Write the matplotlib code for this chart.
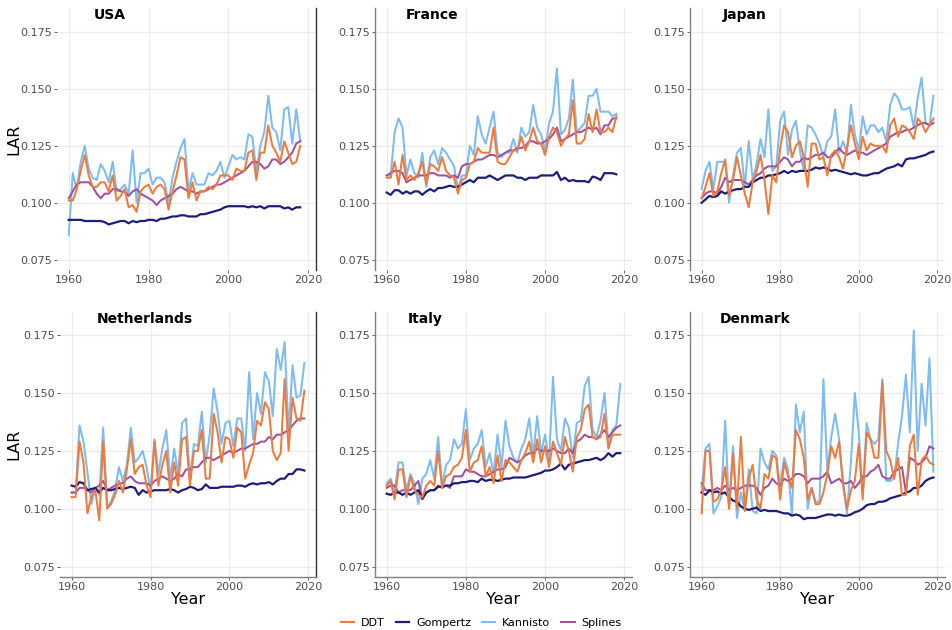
import numpy as np
import matplotlib
import matplotlib.pyplot as plt

matplotlib.use('Agg')

methods = ['DDT', 'Gompertz', 'Kannisto', 'Splines']
colors = {'DDT': '#F07A3C', 'Gompertz': '#1C1F78',
          'Kannisto': '#7DBBF2', 'Splines': '#9E50A2'}

years_to_2018 = list(range(1960, 2019))
years_to_2019 = list(range(1960, 2020))

# USA (1960-2018)
usa_ddt = [0.101, 0.101, 0.106, 0.114, 0.121, 0.112, 0.107, 0.107, 0.109, 0.109,
           0.105, 0.112, 0.101, 0.103, 0.106, 0.098, 0.099, 0.096, 0.105, 0.107,
           0.108, 0.104, 0.107, 0.108, 0.106, 0.097, 0.105, 0.112, 0.120, 0.119,
           0.102, 0.109, 0.101, 0.105, 0.105, 0.107, 0.106, 0.108, 0.112, 0.112,
           0.112, 0.110, 0.115, 0.114, 0.114, 0.122, 0.123, 0.110, 0.122, 0.122,
           0.134, 0.125, 0.122, 0.118, 0.127, 0.122, 0.117, 0.118, 0.125]
usa_gom = [0.0925, 0.0925, 0.0925, 0.0925, 0.092, 0.092, 0.092, 0.092, 0.092, 0.0915,
           0.0905, 0.091, 0.0915, 0.092, 0.092, 0.091, 0.092, 0.0915, 0.092, 0.092,
           0.0925, 0.0925, 0.092, 0.093, 0.093, 0.0935, 0.094, 0.094, 0.0945, 0.0945,
           0.094, 0.094, 0.094, 0.095, 0.095, 0.0955, 0.096, 0.0965, 0.097, 0.098,
           0.0985, 0.0985, 0.0985, 0.0985, 0.0985, 0.098, 0.0985, 0.098, 0.0985, 0.0975,
           0.0985, 0.0985, 0.0985, 0.0985, 0.0975, 0.098, 0.097, 0.098, 0.098]
usa_kan = [0.086, 0.113, 0.106, 0.118, 0.125, 0.115, 0.111, 0.110, 0.117, 0.114,
           0.109, 0.118, 0.105, 0.106, 0.108, 0.104, 0.123, 0.100, 0.113, 0.113,
           0.115, 0.108, 0.111, 0.111, 0.109, 0.100, 0.111, 0.118, 0.124, 0.128,
           0.105, 0.113, 0.108, 0.108, 0.108, 0.113, 0.112, 0.114, 0.118, 0.111,
           0.116, 0.121, 0.119, 0.120, 0.119, 0.130, 0.129, 0.114, 0.125, 0.131,
           0.147, 0.133, 0.131, 0.123, 0.141, 0.142, 0.126, 0.141, 0.127]
usa_spl = [0.102, 0.105, 0.108, 0.109, 0.109, 0.109, 0.107, 0.104, 0.102, 0.104,
           0.104, 0.106, 0.106, 0.105, 0.105, 0.103, 0.105, 0.106, 0.104, 0.103,
           0.102, 0.101, 0.099, 0.101, 0.102, 0.103, 0.104, 0.106, 0.107, 0.106,
           0.105, 0.105, 0.104, 0.105, 0.105, 0.106, 0.107, 0.108, 0.108, 0.109,
           0.110, 0.111, 0.112, 0.113, 0.114, 0.116, 0.118, 0.118, 0.117, 0.115,
           0.116, 0.119, 0.119, 0.117, 0.118, 0.120, 0.122, 0.126, 0.127]

# France (1960-2018)
fra_ddt = [0.111, 0.111, 0.118, 0.108, 0.121, 0.110, 0.112, 0.110, 0.113, 0.118,
           0.108, 0.117, 0.116, 0.114, 0.120, 0.114, 0.112, 0.111, 0.104, 0.110,
           0.111, 0.117, 0.118, 0.124, 0.122, 0.122, 0.122, 0.133, 0.118, 0.117,
           0.117, 0.120, 0.123, 0.123, 0.129, 0.123, 0.127, 0.133, 0.127, 0.126,
           0.121, 0.129, 0.133, 0.131, 0.125, 0.128, 0.130, 0.145, 0.126, 0.126,
           0.128, 0.139, 0.131, 0.141, 0.131, 0.131, 0.133, 0.131, 0.138]
fra_gom = [0.1045, 0.1035, 0.1055, 0.1055, 0.104, 0.105, 0.104, 0.105, 0.105, 0.1035,
           0.105, 0.106, 0.105, 0.1065, 0.1065, 0.107, 0.1075, 0.107, 0.107, 0.108,
           0.109, 0.110, 0.109, 0.111, 0.111, 0.111, 0.112, 0.111, 0.110, 0.111,
           0.112, 0.112, 0.112, 0.111, 0.111, 0.110, 0.111, 0.111, 0.111, 0.112,
           0.112, 0.112, 0.112, 0.1135, 0.110, 0.111, 0.1095, 0.110, 0.1095, 0.1095,
           0.1095, 0.109, 0.1115, 0.111, 0.110, 0.113, 0.113, 0.113, 0.1125]
fra_kan = [0.112, 0.112, 0.131, 0.137, 0.133, 0.112, 0.119, 0.113, 0.111, 0.122,
           0.107, 0.120, 0.123, 0.117, 0.124, 0.122, 0.119, 0.116, 0.106, 0.112,
           0.112, 0.125, 0.121, 0.138, 0.130, 0.126, 0.133, 0.140, 0.122, 0.120,
           0.122, 0.122, 0.128, 0.122, 0.133, 0.129, 0.131, 0.143, 0.133, 0.130,
           0.123, 0.135, 0.140, 0.159, 0.130, 0.132, 0.137, 0.154, 0.131, 0.133,
           0.135, 0.147, 0.147, 0.150, 0.140, 0.140, 0.140, 0.138, 0.139]
fra_spl = [0.112, 0.113, 0.114, 0.114, 0.113, 0.109, 0.110, 0.111, 0.112, 0.112,
           0.112, 0.113, 0.113, 0.112, 0.112, 0.112, 0.111, 0.112, 0.111, 0.116,
           0.117, 0.117, 0.118, 0.119, 0.119, 0.120, 0.121, 0.121, 0.120, 0.121,
           0.122, 0.123, 0.123, 0.124, 0.124, 0.125, 0.127, 0.127, 0.126, 0.126,
           0.127, 0.128, 0.130, 0.133, 0.127, 0.128, 0.129, 0.130, 0.131, 0.131,
           0.132, 0.133, 0.132, 0.133, 0.130, 0.134, 0.134, 0.137, 0.137]

# Japan (1960-2019)
jpn_ddt = [0.102, 0.107, 0.113, 0.103, 0.105, 0.113, 0.119, 0.103, 0.110, 0.120,
           0.112, 0.104, 0.098, 0.109, 0.114, 0.121, 0.110, 0.095, 0.112, 0.109,
           0.124, 0.134, 0.131, 0.120, 0.125, 0.127, 0.120, 0.107, 0.126, 0.126,
           0.119, 0.120, 0.112, 0.121, 0.123, 0.120, 0.115, 0.124, 0.134, 0.126,
           0.119, 0.129, 0.123, 0.126, 0.125, 0.125, 0.125, 0.122, 0.134, 0.137,
           0.129, 0.134, 0.133, 0.131, 0.128, 0.137, 0.135, 0.131, 0.134, 0.137]
jpn_gom = [0.100, 0.1015, 0.103, 0.1025, 0.103, 0.105, 0.104, 0.105, 0.1055, 0.106,
           0.106, 0.107, 0.107, 0.109, 0.110, 0.111, 0.111, 0.112, 0.112, 0.1125,
           0.113, 0.114, 0.113, 0.114, 0.1135, 0.114, 0.114, 0.114, 0.1145, 0.1155,
           0.115, 0.1155, 0.115, 0.114, 0.1145, 0.114, 0.1135, 0.113, 0.1125, 0.113,
           0.1125, 0.112, 0.112, 0.1125, 0.113, 0.113, 0.114, 0.115, 0.1155, 0.116,
           0.117, 0.116, 0.119, 0.1195, 0.1195, 0.120, 0.1205, 0.121, 0.122, 0.1225]
jpn_kan = [0.106, 0.114, 0.118, 0.106, 0.118, 0.118, 0.118, 0.100, 0.112, 0.122,
           0.124, 0.107, 0.127, 0.110, 0.117, 0.128, 0.120, 0.141, 0.114, 0.116,
           0.136, 0.140, 0.121, 0.132, 0.136, 0.123, 0.114, 0.134, 0.133, 0.130,
           0.126, 0.120, 0.127, 0.129, 0.141, 0.122, 0.127, 0.122, 0.143, 0.130,
           0.123, 0.138, 0.130, 0.134, 0.134, 0.131, 0.133, 0.127, 0.143, 0.148,
           0.146, 0.141, 0.141, 0.142, 0.133, 0.146, 0.155, 0.135, 0.134, 0.147]
jpn_spl = [0.102, 0.104, 0.105, 0.105, 0.104, 0.107, 0.111, 0.109, 0.110, 0.110,
           0.110, 0.109, 0.108, 0.110, 0.112, 0.113, 0.115, 0.116, 0.116, 0.116,
           0.118, 0.120, 0.119, 0.116, 0.118, 0.118, 0.120, 0.119, 0.120, 0.121,
           0.121, 0.122, 0.120, 0.120, 0.122, 0.124, 0.122, 0.121, 0.122, 0.123,
           0.122, 0.122, 0.121, 0.122, 0.123, 0.124, 0.125, 0.126, 0.129, 0.130,
           0.131, 0.131, 0.132, 0.132, 0.133, 0.134, 0.135, 0.135, 0.134, 0.135]

# Netherlands (1960-2019)
nld_ddt = [0.105, 0.105, 0.129, 0.120, 0.098, 0.105, 0.108, 0.095, 0.129, 0.100,
           0.102, 0.106, 0.112, 0.107, 0.117, 0.130, 0.115, 0.118, 0.119, 0.110,
           0.105, 0.129, 0.110, 0.119, 0.125, 0.107, 0.120, 0.110, 0.130, 0.131,
           0.110, 0.125, 0.125, 0.134, 0.113, 0.113, 0.141, 0.133, 0.120, 0.131,
           0.130, 0.122, 0.135, 0.133, 0.113, 0.119, 0.124, 0.138, 0.136, 0.146,
           0.143, 0.125, 0.121, 0.124, 0.156, 0.125, 0.148, 0.139, 0.138, 0.151]
nld_gom = [0.110, 0.1095, 0.1115, 0.111, 0.108, 0.1085, 0.109, 0.107, 0.109, 0.108,
           0.108, 0.1085, 0.109, 0.1085, 0.109, 0.1095, 0.109, 0.106, 0.108, 0.107,
           0.1075, 0.108, 0.108, 0.108, 0.108, 0.1085, 0.108, 0.107, 0.108, 0.1085,
           0.1095, 0.109, 0.108, 0.1085, 0.1105, 0.109, 0.109, 0.109, 0.1095, 0.1095,
           0.1095, 0.1095, 0.110, 0.110, 0.1095, 0.1105, 0.111, 0.1105, 0.111, 0.111,
           0.1115, 0.1105, 0.112, 0.113, 0.113, 0.115, 0.115, 0.117, 0.117, 0.1165]
nld_kan = [0.107, 0.107, 0.136, 0.129, 0.116, 0.102, 0.109, 0.106, 0.135, 0.101,
           0.103, 0.108, 0.118, 0.112, 0.119, 0.135, 0.120, 0.122, 0.125, 0.118,
           0.108, 0.130, 0.115, 0.126, 0.134, 0.113, 0.126, 0.115, 0.137, 0.139,
           0.113, 0.128, 0.127, 0.142, 0.120, 0.132, 0.152, 0.142, 0.128, 0.137,
           0.138, 0.127, 0.139, 0.139, 0.125, 0.159, 0.130, 0.150, 0.141, 0.159,
           0.155, 0.140, 0.169, 0.160, 0.172, 0.133, 0.162, 0.148, 0.149, 0.163]
nld_spl = [0.107, 0.107, 0.109, 0.109, 0.108, 0.107, 0.109, 0.110, 0.112, 0.108,
           0.109, 0.110, 0.111, 0.111, 0.113, 0.114, 0.112, 0.111, 0.111, 0.111,
           0.110, 0.112, 0.113, 0.114, 0.113, 0.112, 0.113, 0.115, 0.114, 0.117,
           0.117, 0.118, 0.118, 0.120, 0.122, 0.122, 0.121, 0.122, 0.123, 0.124,
           0.125, 0.124, 0.125, 0.126, 0.126, 0.127, 0.128, 0.128, 0.129, 0.129,
           0.131, 0.130, 0.132, 0.132, 0.133, 0.134, 0.136, 0.138, 0.139, 0.139]

# Italy (1960-2019)
ita_ddt = [0.110, 0.112, 0.104, 0.117, 0.117, 0.105, 0.114, 0.108, 0.106, 0.105,
           0.110, 0.112, 0.110, 0.125, 0.109, 0.114, 0.115, 0.118, 0.119, 0.122,
           0.134, 0.116, 0.120, 0.121, 0.127, 0.114, 0.118, 0.111, 0.123, 0.112,
           0.121, 0.120, 0.118, 0.116, 0.121, 0.124, 0.129, 0.120, 0.130, 0.120,
           0.127, 0.118, 0.129, 0.124, 0.119, 0.131, 0.125, 0.116, 0.131, 0.134,
           0.143, 0.145, 0.131, 0.130, 0.131, 0.141, 0.126, 0.132, 0.132, 0.132]
ita_gom = [0.1065, 0.106, 0.107, 0.107, 0.106, 0.107, 0.106, 0.107, 0.108, 0.1045,
           0.107, 0.108, 0.108, 0.1095, 0.1095, 0.110, 0.110, 0.111, 0.111, 0.1115,
           0.1115, 0.112, 0.112, 0.1115, 0.113, 0.112, 0.1125, 0.1125, 0.112, 0.1125,
           0.113, 0.113, 0.1135, 0.1135, 0.1135, 0.1135, 0.114, 0.1145, 0.115, 0.1155,
           0.1165, 0.1165, 0.117, 0.118, 0.1195, 0.117, 0.119, 0.1195, 0.120, 0.1205,
           0.121, 0.121, 0.1215, 0.122, 0.121, 0.122, 0.124, 0.1225, 0.124, 0.124]
ita_kan = [0.111, 0.113, 0.107, 0.120, 0.120, 0.108, 0.115, 0.111, 0.102, 0.113,
           0.115, 0.121, 0.113, 0.131, 0.110, 0.119, 0.121, 0.130, 0.126, 0.128,
           0.143, 0.121, 0.126, 0.128, 0.134, 0.118, 0.124, 0.115, 0.132, 0.118,
           0.138, 0.127, 0.122, 0.120, 0.126, 0.130, 0.139, 0.123, 0.140, 0.124,
           0.132, 0.120, 0.157, 0.130, 0.125, 0.139, 0.135, 0.122, 0.137, 0.138,
           0.153, 0.157, 0.134, 0.131, 0.138, 0.150, 0.128, 0.134, 0.136, 0.154]
ita_spl = [0.109, 0.110, 0.110, 0.107, 0.108, 0.108, 0.108, 0.110, 0.112, 0.104,
           0.107, 0.108, 0.108, 0.110, 0.109, 0.110, 0.109, 0.114, 0.114, 0.114,
           0.117, 0.116, 0.116, 0.115, 0.114, 0.114, 0.115, 0.116, 0.117, 0.117,
           0.118, 0.122, 0.121, 0.120, 0.121, 0.123, 0.124, 0.124, 0.126, 0.125,
           0.125, 0.125, 0.126, 0.125, 0.124, 0.124, 0.126, 0.124, 0.129, 0.130,
           0.132, 0.131, 0.131, 0.130, 0.132, 0.134, 0.131, 0.133, 0.135, 0.136]

# Denmark (1960-2019)
dnk_ddt = [0.098, 0.125, 0.125, 0.103, 0.104, 0.108, 0.118, 0.100, 0.124, 0.100,
           0.131, 0.099, 0.113, 0.119, 0.104, 0.100, 0.115, 0.113, 0.123, 0.122,
           0.104, 0.120, 0.114, 0.109, 0.134, 0.130, 0.122, 0.104, 0.109, 0.102,
           0.102, 0.107, 0.115, 0.127, 0.122, 0.129, 0.111, 0.100, 0.108, 0.112,
           0.128, 0.104, 0.133, 0.130, 0.122, 0.122, 0.155, 0.125, 0.121, 0.113,
           0.122, 0.106, 0.106, 0.127, 0.132, 0.106, 0.121, 0.123, 0.120, 0.119]
dnk_gom = [0.107, 0.106, 0.108, 0.107, 0.1075, 0.1065, 0.107, 0.105, 0.1035, 0.103,
           0.101, 0.100, 0.0995, 0.100, 0.1005, 0.099, 0.0995, 0.099, 0.099, 0.099,
           0.0985, 0.098, 0.098, 0.097, 0.0975, 0.097, 0.0955, 0.096, 0.096, 0.096,
           0.0965, 0.097, 0.0975, 0.0975, 0.097, 0.0975, 0.097, 0.097, 0.0975, 0.0985,
           0.099, 0.100, 0.1015, 0.102, 0.102, 0.103, 0.103, 0.1035, 0.1045, 0.105,
           0.1055, 0.106, 0.107, 0.1075, 0.109, 0.109, 0.110, 0.112, 0.113, 0.1135]
dnk_kan = [0.108, 0.126, 0.128, 0.098, 0.101, 0.105, 0.138, 0.100, 0.127, 0.096,
           0.107, 0.099, 0.117, 0.099, 0.098, 0.126, 0.120, 0.117, 0.125, 0.123,
           0.110, 0.122, 0.117, 0.097, 0.145, 0.133, 0.142, 0.100, 0.109, 0.103,
           0.103, 0.156, 0.116, 0.131, 0.141, 0.130, 0.110, 0.098, 0.120, 0.150,
           0.133, 0.106, 0.137, 0.130, 0.128, 0.130, 0.156, 0.112, 0.112, 0.113,
           0.128, 0.140, 0.158, 0.133, 0.177, 0.125, 0.154, 0.136, 0.165, 0.116]
dnk_spl = [0.111, 0.108, 0.108, 0.108, 0.109, 0.108, 0.110, 0.108, 0.109, 0.108,
           0.109, 0.110, 0.110, 0.110, 0.109, 0.106, 0.109, 0.110, 0.113, 0.111,
           0.110, 0.113, 0.112, 0.113, 0.115, 0.115, 0.114, 0.111, 0.113, 0.113,
           0.113, 0.114, 0.116, 0.111, 0.112, 0.113, 0.111, 0.111, 0.112, 0.109,
           0.111, 0.114, 0.114, 0.116, 0.117, 0.119, 0.114, 0.113, 0.113, 0.116,
           0.117, 0.118, 0.107, 0.122, 0.121, 0.119, 0.120, 0.122, 0.127, 0.126]

countries = ['USA', 'France', 'Japan', 'Netherlands', 'Italy', 'Denmark']
country_years = [years_to_2018, years_to_2018, years_to_2019,
                 years_to_2019, years_to_2019, years_to_2019]
country_data = [
    {'DDT': usa_ddt, 'Gompertz': usa_gom, 'Kannisto': usa_kan, 'Splines': usa_spl},
    {'DDT': fra_ddt, 'Gompertz': fra_gom, 'Kannisto': fra_kan, 'Splines': fra_spl},
    {'DDT': jpn_ddt, 'Gompertz': jpn_gom, 'Kannisto': jpn_kan, 'Splines': jpn_spl},
    {'DDT': nld_ddt, 'Gompertz': nld_gom, 'Kannisto': nld_kan, 'Splines': nld_spl},
    {'DDT': ita_ddt, 'Gompertz': ita_gom, 'Kannisto': ita_kan, 'Splines': ita_spl},
    {'DDT': dnk_ddt, 'Gompertz': dnk_gom, 'Kannisto': dnk_kan, 'Splines': dnk_spl},
]

W, H = 953, 630
fig = plt.figure(figsize=(W / 100, H / 100), dpi=100)

# panel boxes in pixels: left, top, right, bottom
boxes = [(57, 8, 316, 270), (375, 8, 632, 270), (690, 8, 945, 270),
         (60, 312, 316, 577), (375, 312, 632, 577), (690, 312, 945, 577)]
title_x = [0.14, 0.12, 0.13, 0.145, 0.128, 0.118]
draw_order = ['Kannisto', 'Splines', 'Gompertz', 'DDT']

handles = {}
for i, name in enumerate(countries):
    l, t, r, b = boxes[i]
    ax = fig.add_axes([l / W, 1 - b / H, (r - l) / W, (b - t) / H])
    yrs = country_years[i]
    for m in draw_order:
        lw = 1.6 if m == 'Gompertz' else 1.45
        line, = ax.plot(yrs, country_data[i][m], color=colors[m], lw=lw, label=m)
        handles[m] = line
    ax.set_xlim(1957.05, 2021.95)
    ax.set_ylim(0.0705, 0.1855 if i < 3 else 0.185)
    ax.set_xticks([1960, 1980, 2000, 2020])
    ax.set_yticks([0.075, 0.100, 0.125, 0.150, 0.175])
    ax.set_yticklabels(['0.075', '0.100', '0.125', '0.150', '0.175'])
    ax.grid(True, color='#EBEBEB', lw=0.8)
    ax.set_axisbelow(True)
    ax.tick_params(labelsize=8, colors='#4D4D4D', length=2, width=0.6, pad=1.5)
    for s in ax.spines.values():
        s.set_visible(False)
    if i in (1, 2, 4, 5):
        ax.spines['left'].set_visible(True)
        ax.spines['left'].set_color('#7F7F7F')
        ax.spines['left'].set_linewidth(1.0)
    if i in (0, 3):
        ax.spines['right'].set_visible(True)
        ax.spines['right'].set_color('#333333')
        ax.spines['right'].set_linewidth(1.0)
        # y label sits near the figure edge, centred on the panel
        fig.text(14 / W, 1 - (t + b) / 2 / H, 'LAR', rotation=90,
                 fontsize=11.5, ha='center', va='center')
    if i >= 3:
        ax.spines['bottom'].set_visible(True)
        ax.spines['bottom'].set_color('#7F7F7F')
        ax.spines['bottom'].set_linewidth(1.0)
        ax.set_xlabel('Year', fontsize=11.5, labelpad=0)
    ax.text(title_x[i], 0.975, name, transform=ax.transAxes, fontsize=10,
            fontweight='bold', ha='left', va='center')

fig.legend([handles[m] for m in methods], methods, loc='lower center',
           bbox_to_anchor=(0.505, -0.012), ncol=4, frameon=False, fontsize=8,
           handlelength=1.2, columnspacing=1.0, handletextpad=0.6)

fig.savefig('out.png', dpi=100, facecolor='white')
